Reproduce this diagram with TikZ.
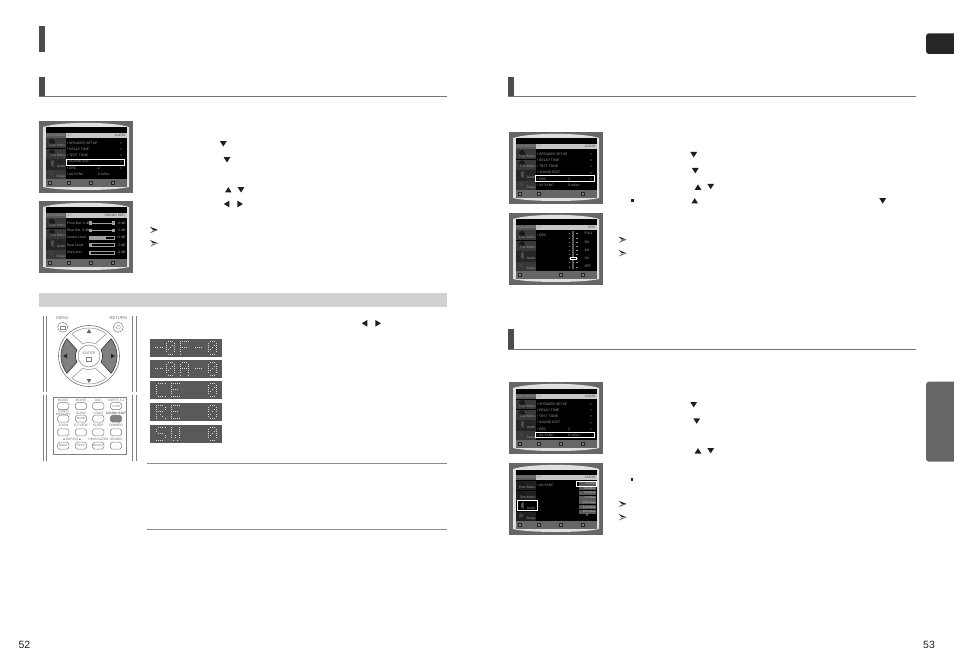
\documentclass[tikz,border=0pt]{standalone}
\usepackage{fontspec}
\setmainfont{Liberation Sans}
\newfontfamily\symfont{DejaVu Sans}
\definecolor{ink}{gray}{0.12}
\definecolor{bar}{gray}{0.30}
\definecolor{rule}{gray}{0.45}
\definecolor{shell}{gray}{0.40}
\definecolor{cell}{gray}{0.22}
\definecolor{soft}{gray}{0.62}
\tikzset{
  every node/.style={inner sep=0pt,outer sep=0pt},
  scr/.style={font=\fontsize{3.4}{4}\selectfont,text=soft},
  scrdark/.style={font=\fontsize{3.4}{4}\selectfont,text=black!70},
  rem/.style={font=\fontsize{3.3}{3.6}\selectfont,text=black!55,align=center},
  hl/.style={draw=white,line width=0.9pt},
  btn/.style={draw=black!50,line width=0.5pt,rounded corners=1.8pt},
  segline/.style={draw=black!45,line width=0.5pt},
  dmdot/.style={fill=white!85!black},
  tridown/.pic={\fill[ink] (-3.4,-2.5) -- (3.4,-2.5) -- (0,2.9) -- cycle;},
  triup/.pic={\fill[ink] (-3.4,2.5) -- (3.4,2.5) -- (0,-2.9) -- cycle;},
  trileft/.pic={\fill[ink] (2.7,-3.4) -- (2.7,3.4) -- (-2.9,0) -- cycle;},
  triright/.pic={\fill[ink] (-2.7,-3.4) -- (-2.7,3.4) -- (2.9,0) -- cycle;},
  notemark/.pic={\fill[ink] (-4,-3.2) -- (4,0) -- (-1,-.2) -- cycle; \fill[black!55] (-4,3.2) -- (4,0) -- (-1,.3) -- cycle;},
  sqmark/.pic={\fill[ink] (-1.4,-1.4) rectangle (1.4,1.4);}
}
% --- on-screen menu shell: #1 fill of Audio cell, #2 fill of other cells
\newcommand{\screenbase}[2]{%
  \fill[shell] (0,0) rectangle (94,72);
  \fill[white!88!black] (4,6) .. controls (20,0.5) and (74,0.5) .. (90,6) -- (90,66) .. controls (74,70) and (20,70) .. (4,66) -- cycle;
  \fill[black] (7,6.5) rectangle (87.7,66);
  \fill[black!65] (7,12) rectangle (27,16.8);
  \fill[black!22] (27,12) rectangle (87.7,16.8);
  \node[scr,anchor=west] at (8,14.4) {DVD RECEIVER};
  \fill[#2] (7,17.5) rectangle (26.7,27.2);
  \fill[#2] (7,27.8) rectangle (26.7,37.6);
  \fill[#1] (7,38.2) rectangle (26.7,48.6);
  \fill[#2] (7,49.2) rectangle (26.7,58);
  \fill[black!90] (13,21) circle (3pt);
  \fill[black!90] (13,31.3) circle (3pt);
  \fill[black!68] (12,40.5) -- (14.5,38.8) -- (14.5,46) -- (12,44.5) -- cycle;
  \fill[black!75] (12,52.5) circle (2.2pt);
  \node[scr,anchor=east] at (26.5,24.4) {Disc Menu};
  \node[scr,anchor=east] at (26.5,34.4) {Title Menu};
  \node[scr,anchor=east] at (26.5,45.6) {Audio};
  \node[scr,anchor=east] at (26.5,55.8) {Setup};
  \fill[black!60] (7,58) rectangle (87.7,66);
}
\newcommand{\toolicon}[1]{\fill[black!85] (#1-1.6,60.3) rectangle (#1+1.6,63.7); \fill[black!50] (#1-.6,61.3) rectangle (#1+.6,62.7);}
\newcommand{\menurows}{%
  \foreach \yy/\ttl in {22/SPEAKER SETUP,28/DELAY TIME,34/TEST TONE,40.8/SOUND EDIT}{%
    \node[scr,anchor=west] at (28,\yy) {\textbullet\ \ttl};
    \fill[soft] (81.5,\yy-.7) -- (82.7,\yy) -- (81.5,\yy+.7) -- cycle;}
  \node[scr,anchor=west] at (28,47) {\textbullet\ DRC};
  \node[scr,anchor=west] at (57,47) {: 2};
  \fill[soft] (81.5,46.3) -- (82.7,47) -- (81.5,47.7) -- cycle;
  \node[scr,anchor=west] at (28,53.4) {\textbullet\ AV-SYNC};
  \node[scr,anchor=west] at (57,53.4) {: 0 mSec};
}
% --- dot matrix glyphs
\def\gZero{0/{1,2,3},1/{0,4},2/{0,3,4},3/{0,2,4},4/{0,1,4},5/{0,4},6/{1,2,3}}
\def\gF{0/{0,1,2,3,4},1/{0},2/{0},3/{0,1,2,3},4/{0},5/{0},6/{0}}
\def\gA{0/{1,2,3},1/{0,4},2/{0,4},3/{0,1,2,3,4},4/{0,4},5/{0,4},6/{0,4}}
\def\gC{0/{1,2,3,4},1/{0},2/{0},3/{0},4/{0},5/{0},6/{1,2,3,4}}
\def\gE{0/{0,1,2,3,4},1/{0},2/{0},3/{0,1,2,3},4/{0},5/{0},6/{0,1,2,3,4}}
\def\gR{0/{0,1,2,3},1/{0,4},2/{0,4},3/{0,1,2,3},4/{0,2},5/{0,3},6/{0,4}}
\def\gS{0/{1,2,3,4},1/{0},2/{0},3/{1,2,3},4/{4},5/{4},6/{0,1,2,3}}
\def\gW{0/{0,4},1/{0,4},2/{0,4},3/{0,4},4/{0,2,4},5/{0,2,4},6/{1,3}}
\def\gDash{3/{0,1,2,3}}
\newcommand{\glyph}[3]{%
  \foreach \rw/\cs in #3 {\foreach \cl in \cs {\fill[dmdot] (#1+\cl*2.15-.5,#2+\rw*2.15-.5) rectangle ++(1,1);}}}
\newcommand{\sector}[5]{% style, start, end, inner start, inner end
  \path[#1] plot[domain=#2:#3,samples=16] ({89+28*cos(\x)},{356+28*sin(\x)}) -- plot[domain=#4:#5,samples=12] ({89+13.5*cos(\x)},{356+13.5*sin(\x)}) -- cycle;}
\begin{document}
\begin{tikzpicture}[x=1pt,y=-1pt]
\useasboundingbox (0,0) rectangle (954,666);
\fill[white] (0,0) rectangle (954,666);
% headings
\fill[bar] (39,26) rectangle (45,52);
\fill[bar] (39,77) rectangle (45,96);
\draw[rule,line width=1pt] (39,96.5) -- (447,96.5);
\fill[bar] (508,77) rectangle (514,97);
\draw[rule,line width=1pt] (508,97) -- (916,97);
\fill[bar] (508,329) rectangle (514,349);
\draw[rule,line width=1pt] (508,349) -- (916,349);
% tabs
\begin{scope}
\clip (0,0) rectangle (954,666);
\fill[black!85,rounded corners=3pt] (926,33.3) rectangle (960,54);
\fill[black!60,rounded corners=3pt] (926,381.7) rectangle (960,461.7);
\end{scope}
% grey band and note rules
\fill[black!18] (39,293) rectangle (447,307);
\draw[black!45,line width=.7pt] (147,463.5) -- (447,463.5);
\draw[black!45,line width=.7pt] (147,529.5) -- (447,529.5);
% screen 1
\begin{scope}[shift={(39,121)}]
  \screenbase{black!85}{cell}
  \node[scrdark,anchor=east] at (86.5,14.4) {AUDIO};
  \menurows
  \draw[hl] (27,38.3) rectangle (85,44);
  \foreach \tx in {11,30,52,74}{\toolicon{\tx}}
\end{scope}
% screen 2
\begin{scope}[shift={(39,201)}]
  \screenbase{black!85}{cell}
  \node[scrdark,anchor=east] at (86.5,14.4) {SOUND EDIT};
  \foreach \yy/\lb/\vl in {22/Front Bal. 0 dB/-6 dB,29.5/Rear Bal. 0 dB/-5 dB}{%
    \node[scr,anchor=west] at (28,\yy) {\lb};
    \draw[soft,line width=.4pt] (50,\yy) -- (74,\yy);
    \fill[soft] (50,\yy-1.8) rectangle (52.5,\yy+1.8);
    \fill[soft] (73,\yy-1.8) rectangle (75.5,\yy+1.8);
    \node[scr,anchor=east] at (86.5,\yy) {\vl};}
  \foreach \yy/\lb/\vl/\ww in {36.5/Center Level/+1 dB/17,44/Rear Level/-5 dB/3,51.5/SW Level/-6 dB/2}{%
    \node[scr,anchor=west] at (28,\yy) {\lb};
    \draw[soft,line width=.4pt] (50,\yy-1.6) rectangle (75,\yy+1.6);
    \fill[soft] (50,\yy-1.6) rectangle (50+\ww,\yy+1.6);
    \node[scr,anchor=east] at (86.5,\yy) {\vl};}
  \foreach \tx in {11,30,52,74}{\toolicon{\tx}}
\end{scope}
% screen 3
\begin{scope}[shift={(509,132)}]
  \screenbase{black!85}{cell}
  \node[scrdark,anchor=east] at (86.5,14.4) {AUDIO};
  \menurows
  \draw[hl] (26.7,43.5) rectangle (85,49.7);
  \foreach \tx in {11,30,74}{\toolicon{\tx}}
\end{scope}
% screen 4
\begin{scope}[shift={(509,213)}]
  \screenbase{black!85}{cell}
  \node[scrdark,anchor=east] at (86.5,14.4) {DRC};
  \node[scr,anchor=west] at (28,22) {\textbullet\ DRC};
  \fill[black!65] (63,18) rectangle (64.6,56);
  \foreach \yy/\lb in {20.7/FULL,29/{6/8},37.3/{4/8},45.3/{2/8},53.7/OFF}{%
    \node[scr,anchor=west] at (75.5,\yy) {\lb};}
  \foreach \yy in {20.7,25,29,33,37.3,41.3,45.3,49.5,53.7}{%
    \fill[black!45] (59.5,\yy-.2) rectangle (61,\yy+.2);
    \fill[black!45] (67,\yy-.2) rectangle (68.5,\yy+.2);}
  \fill[black] (60.5,43.8) rectangle (67.5,47);
  \draw[white,line width=.8pt] (61,44.2) rectangle (67,46.6);
  \foreach \tx in {11,52,74}{\toolicon{\tx}}
\end{scope}
% screen 5
\begin{scope}[shift={(509,382)}]
  \screenbase{black!85}{cell}
  \node[scrdark,anchor=east] at (86.5,14.4) {AUDIO};
  \menurows
  \draw[hl] (26.7,50.3) rectangle (85,55.7);
  \foreach \tx in {11,30,52,74}{\toolicon{\tx}}
\end{scope}
% screen 6
\begin{scope}[shift={(509,463)}]
  \screenbase{black}{black!88}
  \node[scrdark,anchor=east] at (86.5,14.4) {AUDIO};
  \node[scr,anchor=west] at (28,22) {\textbullet\ AV-SYNC};
  \foreach \yy/\lb in {20.7/0 mSec,25.3/25 mSec,30/50 mSec,34.7/75 mSec,39.3/100 mSec,44.3/125 mSec,49/150 mSec}{%
    \fill[black!65] (70,\yy-2) rectangle (87,\yy+2);
    \node[font=\fontsize{2.8}{3}\selectfont,text=black!20,anchor=east] at (86.5,\yy) {\lb};}
  \fill[white] (78,51.9) circle (.7pt);
  \draw[hl] (67,18.3) rectangle (87.7,23);
  \draw[hl] (8.3,37.3) rectangle (28.7,47.7);
  \foreach \tx in {11,30,52,74}{\toolicon{\tx}}
\end{scope}
% instruction marks
\pic at (223.3,143.6) {tridown};
\pic at (227,159.6) {tridown};
\pic at (228.3,190) {triup};
\pic at (241,189.6) {tridown};
\pic at (226.7,204) {trileft};
\pic at (240,204) {triright};
\pic at (154,230) {notemark};
\pic at (154,243.3) {notemark};
\pic at (364.7,323.3) {trileft};
\pic at (378,323.3) {triright};
\pic at (693.7,154.5) {tridown};
\pic at (695.3,170.5) {tridown};
\pic at (698,187.3) {triup};
\pic at (710.7,186.3) {tridown};
\pic at (632.3,200.3) {sqmark};
\pic at (694.7,201) {triup};
\pic at (882.7,200.7) {tridown};
\pic at (622.7,239.7) {notemark};
\pic at (622.7,253.3) {notemark};
\pic at (693.7,404.5) {tridown};
\pic at (696.7,420.9) {tridown};
\pic at (698,451) {triup};
\pic at (710.7,450.5) {tridown};
\pic at (632,479.3) {sqmark};
\pic at (622.7,504) {notemark};
\pic at (622.7,517.3) {notemark};
% remote: side rails
\foreach \rx in {43.3,46.7,132,136}{%
  \draw[black!50,line width=.7pt] (\rx,316) -- (\rx,392);
  \draw[black!50,line width=.7pt] (\rx,395) -- (\rx,461);}
% remote: d-pad
\node[rem,font=\fontsize{4.2}{5}\selectfont] (menulab) at (62.5,318) {MENU};
\node[rem,font=\fontsize{4.2}{5}\selectfont] (retlab) at (118.3,318) {RETURN};
\draw[black!50,line width=.5pt] (62.7,327.3) circle (5pt);
\draw[black!45,line width=.4pt] (60.5,325.8) rectangle (65,328.8);
\draw[black!50,line width=.5pt] (118.3,327.3) circle (5pt);
\draw[black!45,line width=.4pt] (118.3,327.3) circle (2pt);
\draw[black!55,line width=.6pt] (89,356) circle (30.5pt);
\sector{segline}{-128}{-52}{-63}{-117}
\sector{segline}{52}{128}{117}{63}
\sector{fill=black!50,draw=black!80,line width=.6pt}{142}{218}{207}{153}
\sector{fill=black!50,draw=black!80,line width=.6pt}{-38}{38}{27}{-27}
\draw[black!50,line width=.5pt] (89,356) circle (11pt);
\node[rem,font=\fontsize{3.8}{4}\selectfont] (entlab) at (89,353) {ENTER};
\draw[black!50,line width=.4pt] (86.5,357) rectangle (91.5,361);
\fill[black!60] (89,329) -- (86.7,333) -- (91.3,333) -- cycle;
\fill[black!60] (89,383) -- (86.7,379) -- (91.3,379) -- cycle;
\fill[black!85] (63,356) -- (67,353.7) -- (67,358.3) -- cycle;
\fill[black!85] (115,356) -- (111,353.7) -- (111,358.3) -- cycle;
% remote: button block
\draw[black!50,line width=.9pt] (53.3,397.2) rectangle (126.3,454);
\foreach \cx/\ry/\lb in {63.3/400.3/MUSIC,81/400.3/MOVIE,98.3/400.3/ASC,116/400.3/SUPER 5.1,81/413/SLOW,98.3/413/LOGO,116/413/\textbf{SOUND EDIT},63.3/425.7/ZOOM,81/425.7/EZ VIEW,98.3/425.7/SLEEP,116/425.7/DIMMER,98.3/439.3/HDMI AUDIO,116/439.3/SOUND}{%
  \node[rem] at (\cx,\ry) {\lb};}
\node[rem] (tunerlab) at (63.3,412.5) {TUNER\\[-.5pt]MEMORY};
\node[rem] (dsplab) at (72,439.3) {{\symfont ◄} DSP/EQ {\symfont ►}};
\foreach \cx/\ry in {63.3/406,81/406,98.3/406,116/406,63.3/418.7,81/418.7,98.3/418.7,63.3/432.3,81/432.3,98.3/432.3,116/432.3,63.3/445.7,81/445.7,98.3/445.7,116/445.7}{%
  \draw[btn] (\cx-5.6,\ry-3.5) rectangle (\cx+5.6,\ry+3.5);}
\draw[btn,fill=black!50] (110.4,415.2) rectangle (121.6,422.2);
\foreach \cx/\ry/\lb in {116/406/{V-H/R},81/418.7/MUTE,63.3/445.7/MODE,81/445.7/STEP,98.3/445.7/SELECT}{%
  \node[rem,font=\fontsize{2.9}{3}\selectfont] at (\cx,\ry) {\lb};}
% display panels
\foreach \py in {339,360,381,403.3,425}{\fill[black!65] (150,\py) rectangle (222,\py+17.8);}
\glyph{155.7}{341.2}{\gDash}
\glyph{166}{341.2}{\gZero}
\glyph{180}{341.2}{\gF}
\glyph{195}{341.2}{\gDash}
\glyph{208}{341.2}{\gZero}
\glyph{155.7}{362.2}{\gDash}
\glyph{166}{362.2}{\gZero}
\glyph{180}{362.2}{\gA}
\glyph{195}{362.2}{\gDash}
\glyph{208}{362.2}{\gZero}
\glyph{156.5}{383.2}{\gC}
\glyph{171}{383.2}{\gE}
\glyph{208}{383.2}{\gZero}
\glyph{156.5}{405.5}{\gR}
\glyph{171}{405.5}{\gE}
\glyph{208}{405.5}{\gZero}
\glyph{156.5}{427.2}{\gS}
\glyph{171}{427.2}{\gW}
\glyph{208}{427.2}{\gZero}
% page numbers
\node[font=\fontsize{10.5}{12}\selectfont,text=ink] (pgl) at (24.5,644.5) {52};
\node[font=\fontsize{10.5}{12}\selectfont,text=ink] (pgr) at (929,644.5) {53};
\end{tikzpicture}
\end{document}
